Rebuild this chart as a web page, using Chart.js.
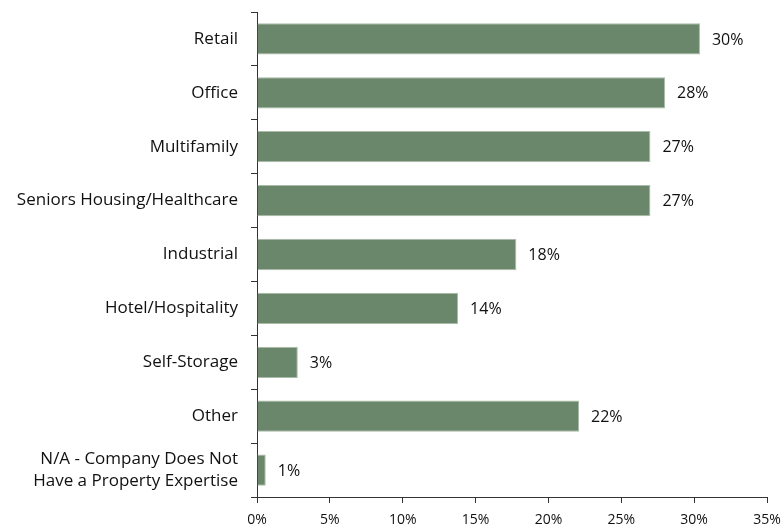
<!DOCTYPE html>
<html><head><meta charset="utf-8">
<script src="https://cdn.jsdelivr.net/npm/chart.js@4.4.1/dist/chart.umd.min.js"></script>
<style>html,body{margin:0;padding:0;background:#fff}#wrap{width:784px;height:527px}</style>
</head><body><div id="wrap"><canvas id="c" width="784" height="527"></canvas></div>
<script>
const categories = ["Retail","Office","Multifamily","Seniors Housing/Healthcare","Industrial","Hotel/Hospitality","Self-Storage","Other",["N/A - Company Does Not","Have a Property Expertise"]];
const values = [30.4,28.0,27.0,27.0,17.8,13.8,2.8,22.1,0.6];
const labels = ["30%","28%","27%","27%","18%","14%","3%","22%","1%"];
const xTicks = [0,5,10,15,20,25,30,35];

const FONT = "'Open Sans', sans-serif";
const labelPlugin = {
  id:'barLabels',
  afterDatasetsDraw(chart){
    const ctx = chart.ctx;
    const meta = chart.getDatasetMeta(0);
    ctx.save();
    ctx.font = "16px " + FONT;
    ctx.fillStyle = "#111";
    ctx.textAlign = "left";
    ctx.textBaseline = "middle";
    meta.data.forEach((bar,i)=>{
      ctx.fillText(labels[i], bar.x + 12, bar.y + 1);
    });
    ctx.restore();
  }
};

new Chart(document.getElementById('c'), {
  type:'bar',
  data:{labels:categories, datasets:[{data:values, backgroundColor:'#6b876b', borderColor:'#a9bba9', borderWidth:1, barPercentage:0.58, categoryPercentage:1}]},
  options:{
    indexAxis:'y', responsive:false, animation:false,
    layout:{padding:{left:0,top:12,right:17,bottom:0}},
    plugins:{legend:{display:false}, tooltip:{enabled:false}},
    scales:{
      x:{min:0,max:35,
        afterBuildTicks(s){ s.ticks = xTicks.map(v=>({value:v})); },
        afterFit(s){ s.height = 30; s.paddingLeft = 0; s.paddingRight = 0; },
        grid:{drawOnChartArea:false, drawTicks:true, tickLength:6, color:'#333'},
        border:{display:true,color:'#333',width:1},
        ticks:{callback:v=>v+'%', font:{family:FONT,size:14}, color:'#111', padding:9, maxRotation:0}
      },
      y:{
        afterFit(s){ s.width = 257; s.paddingTop = 0; s.paddingBottom = 0; },
        grid:{drawOnChartArea:false, drawTicks:true, tickLength:6, color:'#333', offset:true},
        border:{display:true,color:'#333',width:1},
        ticks:{font:{family:FONT,size:17,lineHeight:1.27}, color:'#111', padding:13}
      }
    }
  },
  plugins:[labelPlugin]
});
</script></body></html>
